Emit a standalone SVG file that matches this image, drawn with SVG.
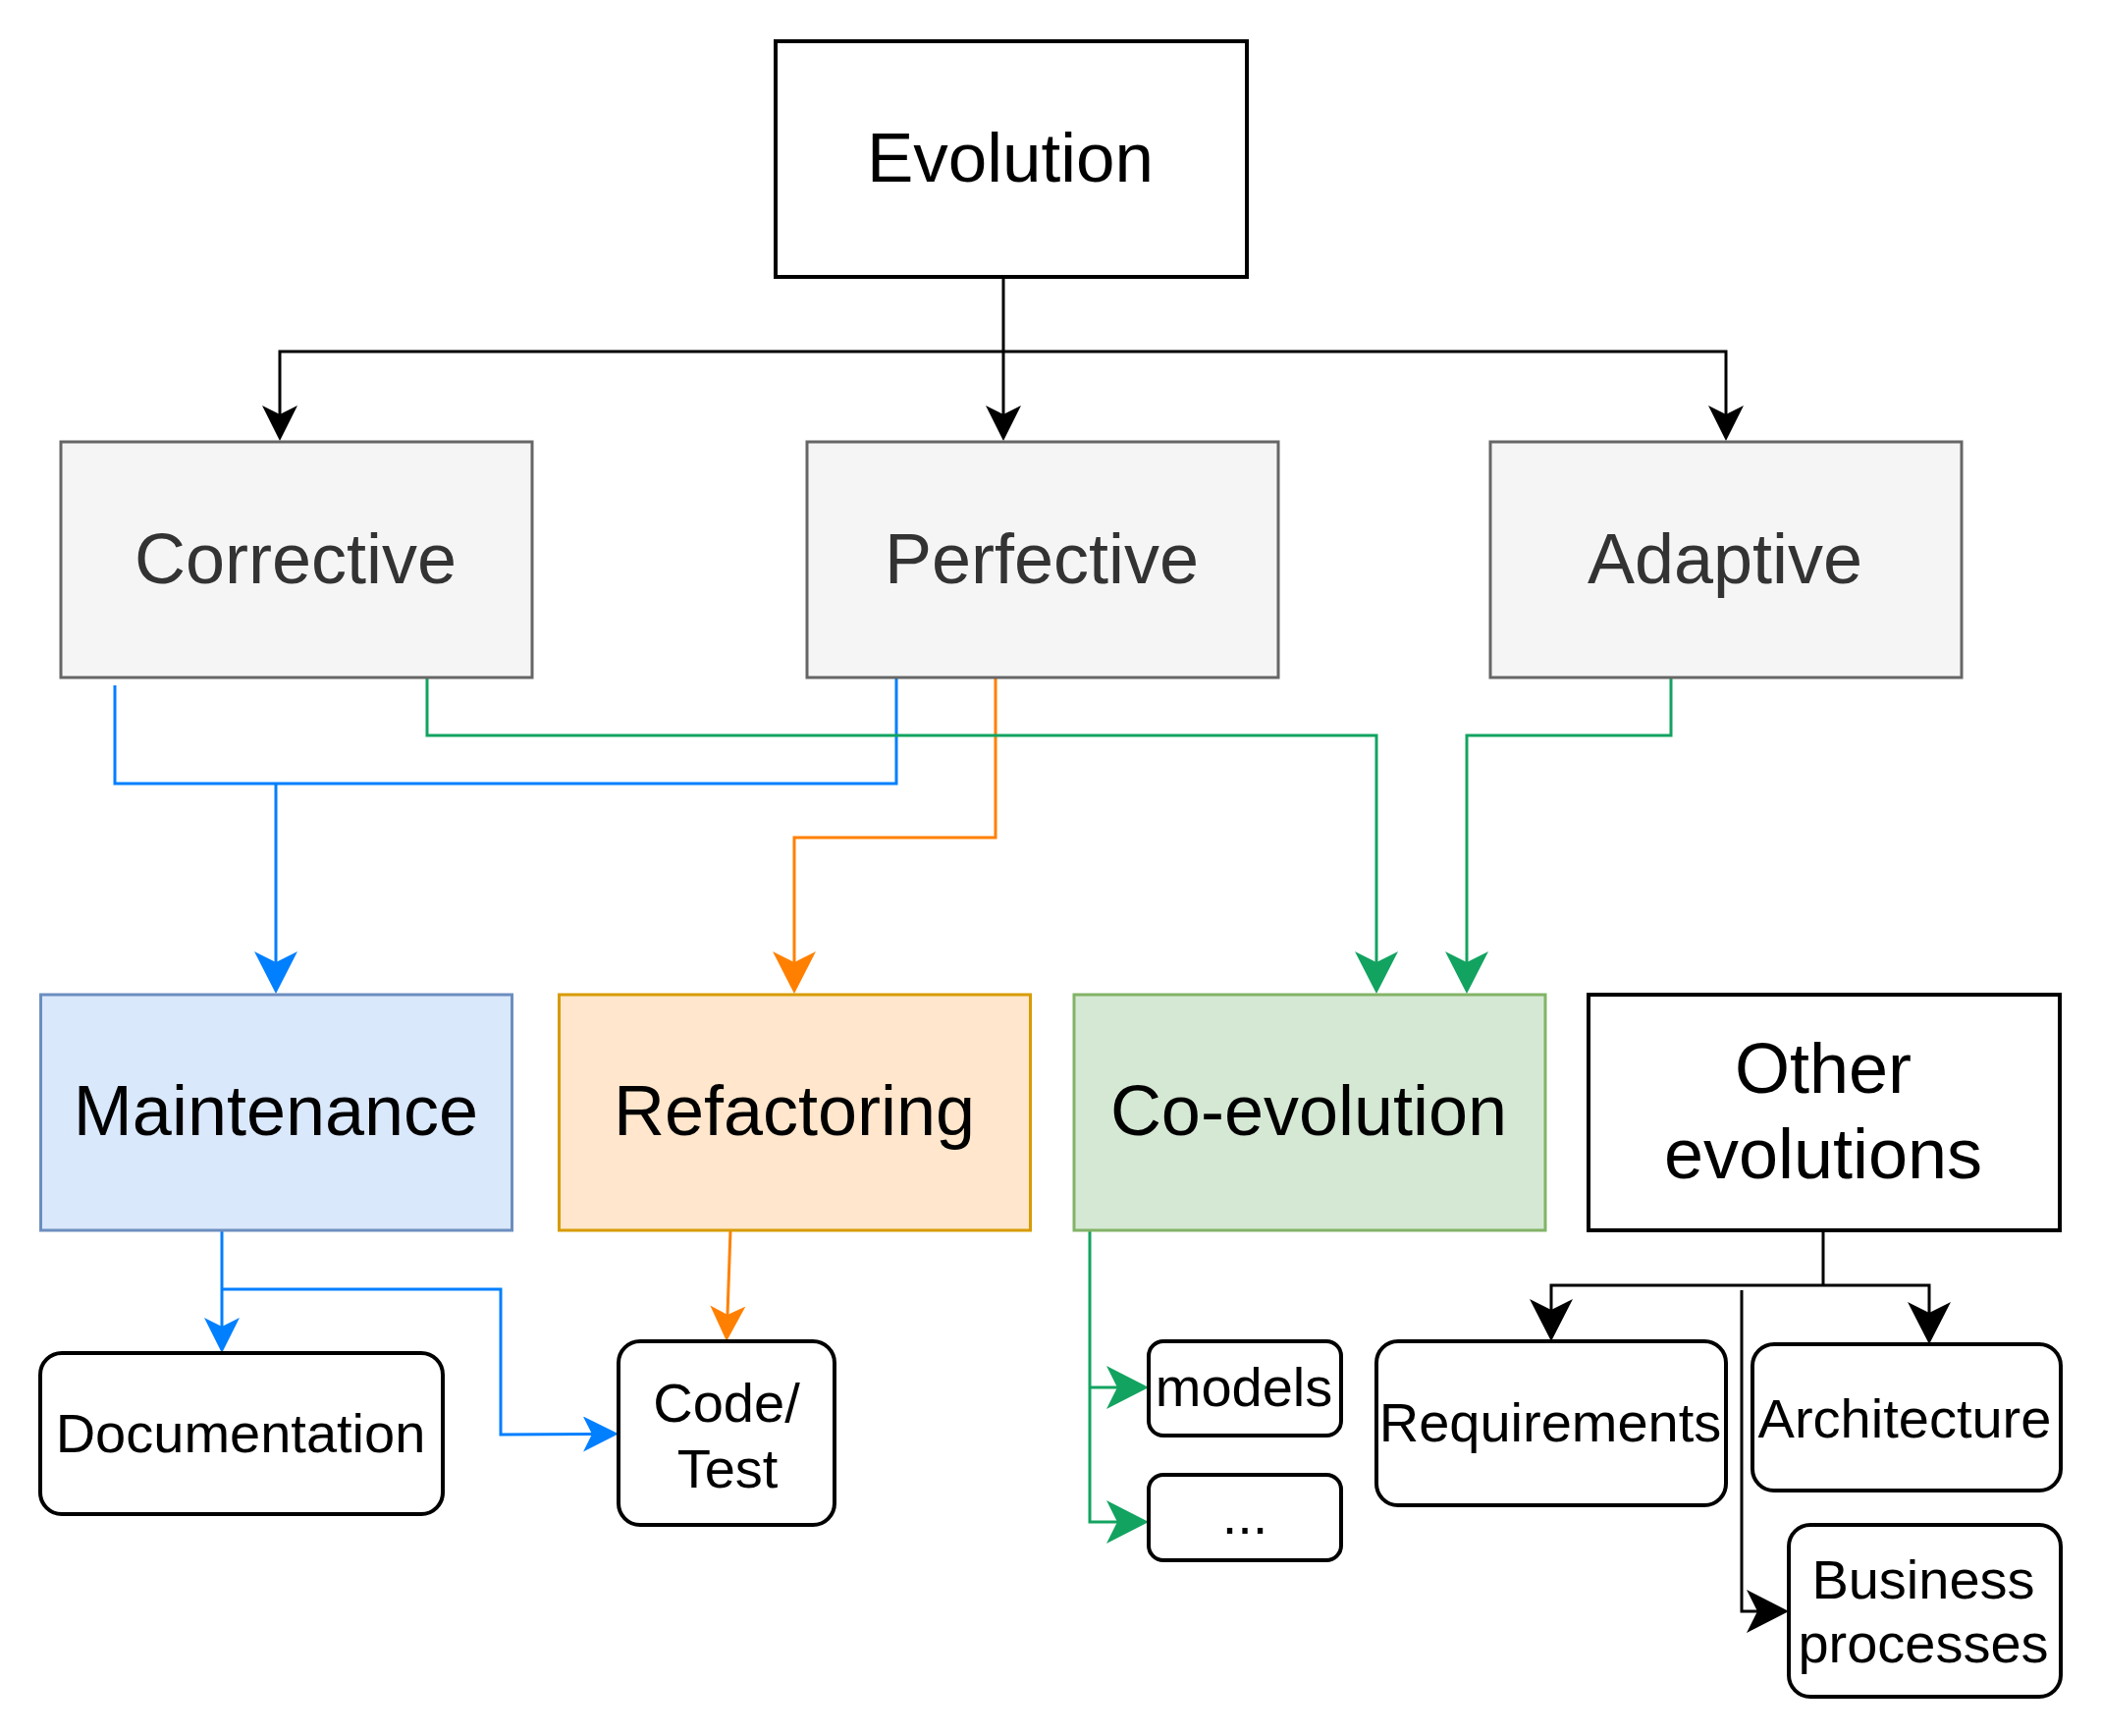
<svg xmlns="http://www.w3.org/2000/svg" width="2140" height="1768" viewBox="0 0 2140 1768">
<style>
text{font-family:"Liberation Sans",Arial,Helvetica,sans-serif;text-anchor:middle}
.big{font-size:72px}
.sm{font-size:56px}
.gray rect{fill:#f5f5f5;stroke:#666666;stroke-width:3}
.gray text{fill:#333333}
.plain{fill:#ffffff;stroke:#000000;stroke-width:4}
.rnd{fill:#ffffff;stroke:#000000;stroke-width:4}
.c{fill:none;stroke-width:3}
.k{stroke:#000000}.b{stroke:#007fff}.o{stroke:#ff8000}.g{stroke:#12a360}
</style>
<defs>
<marker id="ks" markerUnits="userSpaceOnUse" markerWidth="36" markerHeight="36" viewBox="0 -18 36 36" refX="9" refY="0" orient="auto"><path d="M0,-18L36,0L0,18L9,0Z" fill="#000000"/></marker>
<marker id="bs" markerUnits="userSpaceOnUse" markerWidth="36" markerHeight="36" viewBox="0 -18 36 36" refX="9" refY="0" orient="auto"><path d="M0,-18L36,0L0,18L9,0Z" fill="#007fff"/></marker>
<marker id="os" markerUnits="userSpaceOnUse" markerWidth="36" markerHeight="36" viewBox="0 -18 36 36" refX="9" refY="0" orient="auto"><path d="M0,-18L36,0L0,18L9,0Z" fill="#ff8000"/></marker>
<marker id="kl" markerUnits="userSpaceOnUse" markerWidth="43" markerHeight="44" viewBox="0 -22 43 44" refX="11" refY="0" orient="auto"><path d="M0,-22L43,0L0,22L11,0Z" fill="#000000"/></marker>
<marker id="bl" markerUnits="userSpaceOnUse" markerWidth="43" markerHeight="44" viewBox="0 -22 43 44" refX="11" refY="0" orient="auto"><path d="M0,-22L43,0L0,22L11,0Z" fill="#007fff"/></marker>
<marker id="ol" markerUnits="userSpaceOnUse" markerWidth="43" markerHeight="44" viewBox="0 -22 43 44" refX="11" refY="0" orient="auto"><path d="M0,-22L43,0L0,22L11,0Z" fill="#ff8000"/></marker>
<marker id="gl" markerUnits="userSpaceOnUse" markerWidth="43" markerHeight="44" viewBox="0 -22 43 44" refX="11" refY="0" orient="auto"><path d="M0,-22L43,0L0,22L11,0Z" fill="#12a360"/></marker>
</defs>

<g id="connectors">
<path class="c k" d="M1022,282V422" marker-end="url(#ks)"/>
<path class="c k" d="M1022,358H285V422" marker-end="url(#ks)"/>
<path class="c k" d="M1022,358H1758V422" marker-end="url(#ks)"/>
<path class="c b" d="M117,698V798H913V690"/>
<path class="c b" d="M281,798V980" marker-end="url(#bl)"/>
<path class="c o" d="M1014,690V853H809V980" marker-end="url(#ol)"/>
<path class="c g" d="M435,690V749H1402V980" marker-end="url(#gl)"/>
<path class="c g" d="M1702,690V749H1494V980" marker-end="url(#gl)"/>
<path class="c b" d="M226,1253V1351" marker-end="url(#bs)"/>
<path class="c b" d="M226,1313H510V1461L603,1460.5" marker-end="url(#bs)"/>
<path class="c o" d="M744,1253L741,1339" marker-end="url(#os)"/>
<path class="c g" d="M1110,1253V1550H1138" marker-end="url(#gl)"/>
<path class="c g" d="M1110,1413H1138" marker-end="url(#gl)"/>
<path class="c k" d="M1857,1253V1309"/>
<path class="c k" d="M1857,1309H1580V1334" marker-end="url(#kl)"/>
<path class="c k" d="M1857,1309H1965V1337" marker-end="url(#kl)"/>
<path class="c k" d="M1774,1314V1641H1790" marker-end="url(#kl)"/>
</g>

<g id="evolution">
<rect class="plain" x="790" y="42" width="480" height="240"/>
<text x="1029" y="185" font-size="71">Evolution</text>
</g>
<g id="corrective" class="gray">
<rect x="62" y="450" width="480" height="240"/>
<text class="big" x="301" y="594">Corrective</text>
</g>
<g id="perfective" class="gray">
<rect x="822" y="450" width="480" height="240"/>
<text class="big" x="1061" y="594">Perfective</text>
</g>
<g id="adaptive" class="gray">
<rect x="1518" y="450" width="480" height="240"/>
<text class="big" x="1757" y="594">Adaptive</text>
</g>
<g id="maintenance">
<rect x="41.5" y="1013" width="480" height="240" fill="#dae8fc" stroke="#6c8ebf" stroke-width="3"/>
<text class="big" x="281" y="1156">Maintenance</text>
</g>
<g id="refactoring">
<rect x="569.5" y="1013" width="480" height="240" fill="#ffe6cc" stroke="#d79b00" stroke-width="3"/>
<text class="big" x="809" y="1156">Refactoring</text>
</g>
<g id="coevolution">
<rect x="1094" y="1013" width="480" height="240" fill="#d5e8d4" stroke="#82b366" stroke-width="3"/>
<text class="big" x="1333" y="1156">Co-evolution</text>
</g>
<g id="other">
<rect class="plain" x="1618" y="1013" width="480" height="240"/>
<text class="big" x="1857" y="1113">Other</text>
<text class="big" x="1857" y="1200">evolutions</text>
</g>
<g id="documentation">
<rect class="rnd" x="41" y="1378" width="410" height="164" rx="22"/>
<text class="sm" x="245" y="1479">Documentation</text>
</g>
<g id="codetest">
<rect class="rnd" x="630" y="1366" width="220" height="187" rx="22"/>
<text class="sm" x="740" y="1448">Code/</text>
<text class="sm" x="741" y="1515">Test</text>
</g>
<g id="models">
<rect class="rnd" x="1170" y="1366" width="196" height="96" rx="15"/>
<text class="sm" x="1267" y="1432">models</text>
</g>
<g id="etc">
<rect class="rnd" x="1170" y="1502" width="196" height="87" rx="15"/>
<text class="sm" x="1268" y="1562">...</text>
</g>
<g id="requirements">
<rect class="rnd" x="1402" y="1366" width="356" height="167" rx="22"/>
<text class="sm" x="1579" y="1468">Requirements</text>
</g>
<g id="architecture">
<rect class="rnd" x="1785" y="1369" width="314" height="149" rx="22"/>
<text class="sm" x="1940" y="1464">Architecture</text>
</g>
<g id="business">
<rect class="rnd" x="1822" y="1553" width="277" height="175" rx="22"/>
<text class="sm" x="1959" y="1628">Business</text>
<text class="sm" x="1959" y="1693">processes</text>
</g>
</svg>
